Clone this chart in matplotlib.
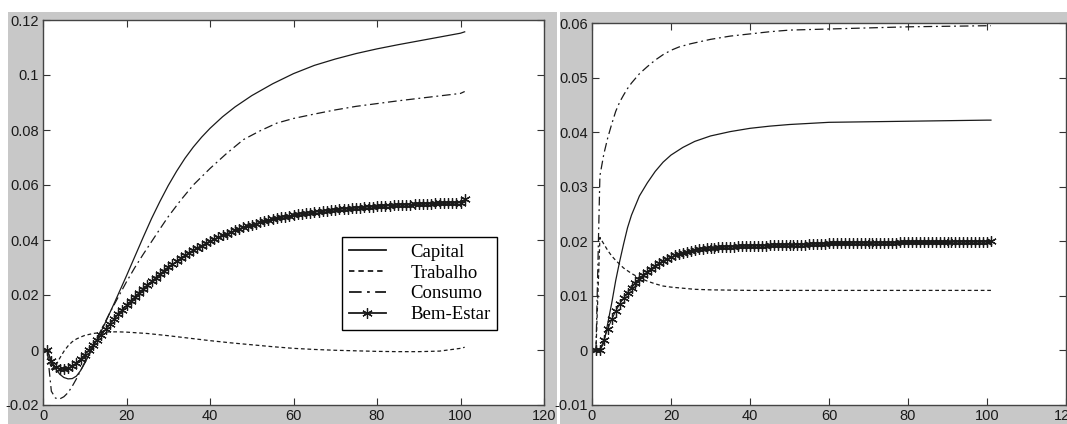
import numpy as np
import matplotlib
matplotlib.use("Agg")
import matplotlib.pyplot as plt
from matplotlib.patches import Rectangle

# ============================================
# DATA
# ============================================

# ---- left panel ----
capital_l_x = [1, 2, 3, 4, 5, 6, 7, 8, 9, 10, 11, 12, 13, 14, 15, 16, 17, 18, 19, 20,
               22, 24, 26, 28, 30, 32, 34, 36, 38, 40, 43, 46, 50, 55, 60, 65, 70,
               75, 80, 85, 90, 95, 100, 101]
capital_l_y = [0.0, -0.0040, -0.0068, -0.0088, -0.0100, -0.0105, -0.0104, -0.0095,
               -0.0075, -0.0048, -0.0018, 0.0012, 0.0040, 0.0070, 0.0102, 0.0135,
               0.0168, 0.0202, 0.0236, 0.0270, 0.0340, 0.0410, 0.0478, 0.0540,
               0.0598, 0.0650, 0.0697, 0.0738, 0.0774, 0.0806, 0.0848, 0.0884,
               0.0925, 0.0968, 0.1005, 0.1035, 0.1058, 0.1078, 0.1095, 0.1110,
               0.1124, 0.1138, 0.1152, 0.1157]

trabalho_l_x = [1, 2, 3, 4, 5, 6, 7, 8, 9, 10, 12, 14, 16, 18, 20, 25, 30, 35, 40,
                45, 50, 55, 60, 65, 70, 75, 80, 85, 90, 95, 100, 101]
trabalho_l_y = [0.0, -0.0070, -0.0058, -0.0030, -0.0005, 0.0015, 0.0030, 0.0040,
                0.0047, 0.0053, 0.0060, 0.0064, 0.0066, 0.0066, 0.0065, 0.0060,
                0.0052, 0.0043, 0.0034, 0.0026, 0.0019, 0.0012, 0.0006, 0.0002,
                -0.0001, -0.0003, -0.0005, -0.0006, -0.0006, -0.0004, 0.0006, 0.0010]

consumo_l_x = [1, 2, 3, 4, 5, 6, 7, 8, 9, 10, 11, 12, 13, 14, 15, 16, 18, 20, 22,
               24, 26, 28, 30, 33, 36, 40, 44, 48, 52, 56, 60, 65, 70, 75, 80, 85,
               90, 95, 100, 101]
consumo_l_y = [0.0, -0.0150, -0.0175, -0.0178, -0.0170, -0.0155, -0.0132, -0.0105,
               -0.0075, -0.0045, -0.0015, 0.0015, 0.0045, 0.0075, 0.0105, 0.0135,
               0.0192, 0.0248, 0.0300, 0.0348, 0.0394, 0.0440, 0.0485, 0.0545,
               0.0600, 0.0660, 0.0715, 0.0765, 0.0797, 0.0825, 0.0842, 0.0858,
               0.0873, 0.0886, 0.0896, 0.0906, 0.0915, 0.0924, 0.0933, 0.0940]

# welfare: one value per period 1..101
bem_estar_l = [0.0, -0.0040, -0.0062, -0.0069, -0.0070, -0.0066, -0.0058, -0.0047, -0.0033, -0.0017,
               0.0000, 0.0018, 0.0037, 0.0056, 0.0075, 0.0094, 0.0112, 0.0130, 0.0146, 0.0162,
               0.0178, 0.0193, 0.0208, 0.0222, 0.0236, 0.0250, 0.0263, 0.0276, 0.0289, 0.0301,
               0.0312, 0.0323, 0.0334, 0.0344, 0.0354, 0.0363, 0.0372, 0.0380, 0.0388, 0.0396,
               0.0403, 0.0410, 0.0417, 0.0423, 0.0429, 0.0435, 0.0441, 0.0446, 0.0451, 0.0456,
               0.0460, 0.0464, 0.0468, 0.0472, 0.0476, 0.0479, 0.0482, 0.0485, 0.0488, 0.0491,
               0.0493, 0.0495, 0.0497, 0.0499, 0.0501, 0.0503, 0.0505, 0.0507, 0.0508, 0.0510,
               0.0511, 0.0513, 0.0514, 0.0515, 0.0517, 0.0518, 0.0519, 0.0520, 0.0521, 0.0522,
               0.0523, 0.0524, 0.0525, 0.0526, 0.0527, 0.0528, 0.0528, 0.0529, 0.0530, 0.0530,
               0.0531, 0.0532, 0.0532, 0.0533, 0.0533, 0.0534, 0.0534, 0.0535, 0.0535, 0.0536,
               0.0548]

# ---- right panel ----
capital_r_x = [1, 2, 3, 4, 5, 6, 7, 8, 9, 10, 12, 14, 16, 18, 20, 23, 26, 30, 35,
               40, 45, 50, 55, 60, 70, 80, 90, 100, 101]
capital_r_y = [0.0, 0.0, 0.0014, 0.0050, 0.0087, 0.0128, 0.0163, 0.0195, 0.0225,
               0.0248, 0.0283, 0.0307, 0.0328, 0.0345, 0.0358, 0.0372, 0.0383,
               0.0393, 0.0401, 0.0407, 0.0411, 0.0414, 0.0416, 0.0418, 0.0419,
               0.0420, 0.0421, 0.0422, 0.0422]

trabalho_r_x = [1, 2, 3, 4, 5, 6, 7, 8, 9, 10, 12, 14, 16, 18, 20, 23, 26, 30, 40,
                50, 60, 70, 80, 90, 100, 101]
trabalho_r_y = [0.0, 0.0207, 0.0195, 0.0183, 0.0173, 0.0165, 0.0158, 0.0151, 0.0146,
                0.0141, 0.0133, 0.0127, 0.0122, 0.0118, 0.0116, 0.0114, 0.0112,
                0.0111, 0.0110, 0.0110, 0.0110, 0.0110, 0.0110, 0.0110, 0.0110, 0.0110]

consumo_r_x = [1, 2, 3, 4, 5, 6, 7, 8, 9, 10, 12, 14, 16, 18, 20, 22, 25, 30, 35,
               40, 45, 50, 55, 60, 70, 80, 90, 100, 101]
consumo_r_y = [0.0, 0.0320, 0.0360, 0.0390, 0.0415, 0.0438, 0.0455, 0.0468, 0.0480,
               0.0490, 0.0507, 0.0520, 0.0532, 0.0542, 0.0550, 0.0556, 0.0562,
               0.0570, 0.0576, 0.0580, 0.0584, 0.0587, 0.0588, 0.0589, 0.0591,
               0.0593, 0.0594, 0.0595, 0.0595]

bem_estar_r = [0.0, 0.0, 0.0020, 0.0040, 0.0057, 0.0072, 0.0085, 0.0096, 0.0106, 0.0115,
               0.0123, 0.0131, 0.0138, 0.0144, 0.0150, 0.0155, 0.0160, 0.0164, 0.0168, 0.0171,
               0.0174, 0.0177, 0.0179, 0.0181, 0.0183, 0.0184, 0.0185, 0.0186, 0.0187, 0.0188,
               0.0188, 0.0189, 0.0189, 0.0190, 0.0190, 0.0190, 0.0191, 0.0191, 0.0191, 0.0191,
               0.0192, 0.0192, 0.0192, 0.0192, 0.0193, 0.0193, 0.0193, 0.0193, 0.0193, 0.0194,
               0.0194, 0.0194, 0.0194, 0.0194, 0.0195, 0.0195, 0.0195, 0.0195, 0.0195, 0.0196,
               0.0196, 0.0196, 0.0196, 0.0196, 0.0196, 0.0197, 0.0197, 0.0197, 0.0197, 0.0197,
               0.0197, 0.0197, 0.0197, 0.0197, 0.0197, 0.0197, 0.0197, 0.0198, 0.0198, 0.0198,
               0.0198, 0.0198, 0.0198, 0.0198, 0.0198, 0.0198, 0.0198, 0.0198, 0.0198, 0.0198,
               0.0199, 0.0199, 0.0199, 0.0199, 0.0199, 0.0199, 0.0199, 0.0199, 0.0199, 0.0199,
               0.0200]

periods = list(range(1, 102))

labels = ["Capital", "Trabalho", "Consumo", "Bem-Estar"]

xticks = [0, 20, 40, 60, 80, 100, 120]
yticks_l = [-0.02, 0, 0.02, 0.04, 0.06, 0.08, 0.1, 0.12]
ytick_labels_l = ["-0.02", "0", "0.02", "0.04", "0.06", "0.08", "0.1", "0.12"]
yticks_r = [-0.01, 0, 0.01, 0.02, 0.03, 0.04, 0.05, 0.06]
ytick_labels_r = ["-0.01", "0", "0.01", "0.02", "0.03", "0.04", "0.05", "0.06"]

# ============================================
# FIGURE
# ============================================

GRAY = "#c8c8c8"
LINE = "#1a1a1a"
ASTER = (6, 2, 0)   # asterisk marker like matlab '*'

fig = plt.figure(figsize=(10.67, 4.24), dpi=100, facecolor="white")

# matlab figure backgrounds (two screenshots side by side)
fig.patches.append(Rectangle((8/1067, 0), 549/1067, 412/424, transform=fig.transFigure,
                             facecolor=GRAY, edgecolor="none", zorder=-10))
fig.patches.append(Rectangle((560/1067, 0), 507/1067, 412/424, transform=fig.transFigure,
                             facecolor=GRAY, edgecolor="none", zorder=-10))

ax1 = fig.add_axes([43/1067, 19/424, 501/1067, 385/424])
ax2 = fig.add_axes([592/1067, 19/424, 474/1067, 382/424])


def style_axes(ax, yticks, ylabels, ylim):
    ax.set_xlim(0, 120)
    ax.set_ylim(*ylim)
    ax.set_xticks(xticks)
    ax.set_xticklabels([str(t) for t in xticks])
    ax.set_yticks(yticks)
    ax.set_yticklabels(ylabels)
    ax.tick_params(direction="in", length=5, width=0.8, top=True, right=True,
                   labelsize=10.5, colors="#333333", pad=3)
    for lab in ax.get_xticklabels() + ax.get_yticklabels():
        lab.set_family("Liberation Sans")
        lab.set_color("#1a1a1a")
    for sp in ax.spines.values():
        sp.set_color("#444444")
        sp.set_linewidth(1.0)
    ax.set_facecolor("white")


def draw(ax, cx, cy, tx, ty, kx, ky, bem):
    ax.plot(cx, cy, color=LINE, linewidth=0.9, linestyle="-", label=labels[0])
    ax.plot(tx, ty, color=LINE, linewidth=0.9, linestyle=(0, (3, 2.2)), label=labels[1])
    ax.plot(kx, ky, color=LINE, linewidth=0.9, linestyle=(0, (7, 3, 1.5, 3)), label=labels[2])
    ax.plot(periods, bem, color=LINE, linewidth=0.8, marker=ASTER, markersize=7.5,
            markeredgewidth=0.9, label=labels[3])


draw(ax1, capital_l_x, capital_l_y, trabalho_l_x, trabalho_l_y,
     consumo_l_x, consumo_l_y, bem_estar_l)
draw(ax2, capital_r_x, capital_r_y, trabalho_r_x, trabalho_r_y,
     consumo_r_x, consumo_r_y, bem_estar_r)

style_axes(ax1, yticks_l, ytick_labels_l, (-0.02, 0.12))
style_axes(ax2, yticks_r, ytick_labels_r, (-0.01, 0.06))

leg = ax1.legend(loc="upper left", bbox_to_anchor=(299/501, 168/385), borderaxespad=0,
                 prop={"family": "Liberation Serif", "size": 13.5}, frameon=True,
                 fancybox=False, edgecolor="black", framealpha=1, numpoints=1,
                 handlelength=2.0, handletextpad=1.3, labelspacing=0.2,
                 borderpad=0.35)
leg.get_frame().set_linewidth(1.0)
for h in leg.get_lines():
    h.set_linewidth(1.3)

plt.savefig("out.png", dpi=100, facecolor="white")
